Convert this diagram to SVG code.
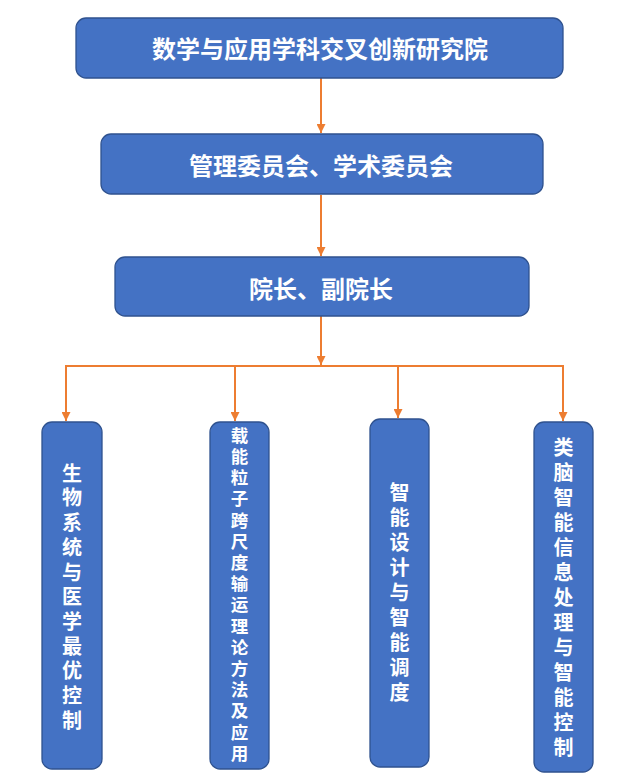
<svg xmlns="http://www.w3.org/2000/svg" width="639" height="783" viewBox="0 0 639 783">
<style>
.box{fill:#4472C4;stroke:#2F528F;stroke-width:1.3}
.t{fill:#fff;font-family:"Noto Sans CJK SC","Noto Sans",sans-serif;font-weight:700;text-anchor:middle;dominant-baseline:central}
.h{font-size:24px}
.vt{writing-mode:vertical-rl;text-orientation:upright}
.v{font-size:20px}
.vs{font-size:17.5px}
.c{fill:none;stroke:#ED7D31;stroke-width:2}
</style>
<defs>
<marker id="ah" viewBox="0 0 10 10" refX="10" refY="5" markerWidth="4.5" markerHeight="4.5" orient="auto" markerUnits="strokeWidth">
<path d="M0,0 L10,5 L0,10 z" fill="#ED7D31"/>
</marker>
</defs>
<g id="connectors">
<line class="c" x1="321" y1="78" x2="321" y2="133" marker-end="url(#ah)"/>
<line class="c" x1="321" y1="195" x2="321" y2="256" marker-end="url(#ah)"/>
<line class="c" x1="321" y1="316" x2="321" y2="365" marker-end="url(#ah)"/>
<polyline class="c" points="66,421 66,366 563,366 563,421" marker-end="url(#ah)"/>
<line class="c" x1="66" y1="366" x2="66" y2="421" marker-end="url(#ah)"/>
<line class="c" x1="235" y1="366" x2="235" y2="421" marker-end="url(#ah)"/>
<line class="c" x1="398" y1="366" x2="398" y2="418" marker-end="url(#ah)"/>
</g>
<g id="n1">
<rect class="box" x="76" y="18" width="487" height="60" rx="10"/>
<text class="t h" x="320" y="47">数学与应用学科交叉创新研究院</text>
</g>
<g id="n2">
<rect class="box" x="101" y="134" width="442" height="60" rx="10"/>
<text class="t h" x="321" y="164">管理委员会、学术委员会</text>
</g>
<g id="n3">
<rect class="box" x="115" y="257" width="414" height="59" rx="10"/>
<text class="t h" x="321" y="287">院长、副院长</text>
</g>
<g id="n4">
<rect class="box" x="42" y="422" width="60" height="347" rx="10"/>
<text class="t v vt" x="72" y="599" letter-spacing="4.7">生物系统与医学最优控制</text>
</g>
<g id="n5">
<rect class="box" x="210" y="422" width="59" height="347" rx="10"/>
<text class="t vs vt" x="239.5" y="596" letter-spacing="3.7">载能粒子跨尺度输运理论方法及应用</text>
</g>
<g id="n6">
<rect class="box" x="370" y="419" width="59" height="348" rx="10"/>
<text class="t v vt" x="399.5" y="595" letter-spacing="5.1">智能设计与智能调度</text>
</g>
<g id="n7">
<rect class="box" x="534" y="422" width="59" height="350" rx="10"/>
<text class="t v vt" x="563.5" y="599.5" letter-spacing="5">类脑智能信息处理与智能控制</text>
</g>
</svg>
